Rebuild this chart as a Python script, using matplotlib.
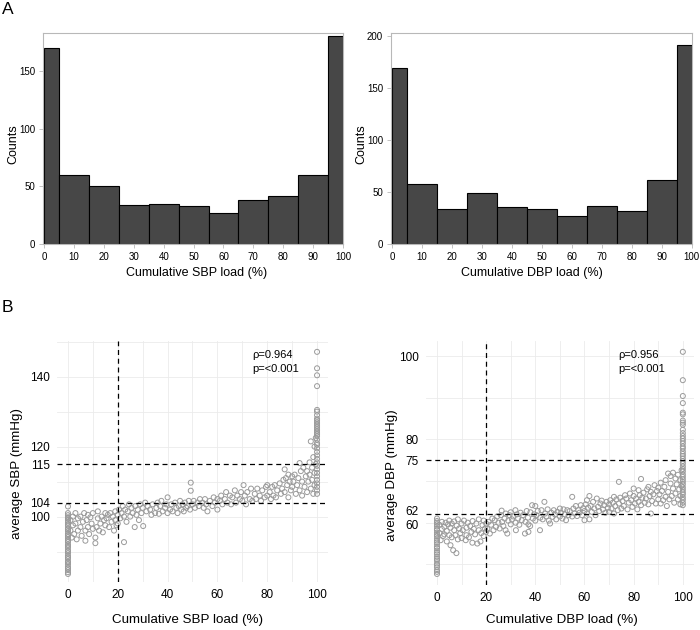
import matplotlib
matplotlib.use('Agg')
import matplotlib.pyplot as plt
import matplotlib.transforms as mtransforms
import numpy as np

plt.rcParams['font.family'] = ['Liberation Sans', 'DejaVu Sans']

# --- panel A: histograms of cumulative load ---
bin_edges = [0, 5, 15, 25, 35, 45, 55, 65, 75, 85, 95, 100]
sbp_counts = [170, 60, 50, 34, 35, 33, 27, 38, 42, 60, 180]
dbp_counts = [169, 58, 34, 49, 36, 34, 27, 37, 32, 62, 191]
hist_xticks = [0, 10, 20, 30, 40, 50, 60, 70, 80, 90, 100]
sbp_hist_yticks = [0, 50, 100, 150]
dbp_hist_yticks = [0, 50, 100, 150, 200]

# --- panel B: load vs average BP ---
sbp_zero = [83.6, 84.1, 84.7, 85.2, 85.6, 86.3, 86.8, 87.2, 87.9, 88.4, 88.8, 89.5,
            90.0, 90.4, 91.1, 91.6, 92.0, 92.7, 93.1, 93.6, 94.2, 94.7, 95.1, 95.8,
            96.3, 96.7, 97.4, 97.8, 98.3, 98.9, 99.4, 99.8, 100.4, 101.0, 102.9]
sbp_full = [106.5, 107.5, 108.5, 109.5, 110.5, 111.5, 112.5, 113.5, 114.5, 115.5,
            116.5, 117.5, 118.5, 119.5, 120.5, 121.0, 122.0, 123.0, 123.5, 124.0,
            124.5, 125.0, 125.5, 126.0, 126.5, 127.0, 127.5, 128.0, 129.0, 130.0,
            130.5, 137.3, 140.4, 142.4, 147.1]
sbp_mid = [
    (1, 96), (1, 99), (1.5, 94), (2, 97.5), (2, 100), (2.5, 95), (3, 98), (3, 101),
    (3.5, 93.5), (4, 96), (4, 99.5), (5, 100), (5, 97), (5.5, 94.5),
    (6, 98.5), (6.5, 101), (7, 96), (7, 93.1), (7.5, 99), (8, 100.5), (8, 97),
    (8.5, 95), (9, 99.8), (9.5, 98), (10, 96.5), (10, 101),
    (11, 92.4), (11, 94), (11.5, 97), (12, 99.5), (12, 101.5), (12.5, 96), (13, 98),
    (13.5, 100), (14, 95.5), (14.5, 99), (15, 101), (15, 97.5),
    (15.5, 99.5), (16, 100.5), (16.5, 97), (17, 101), (17.5, 98.5), (18, 100),
    (18.5, 96), (19, 101.5), (19, 99), (19.5, 97.5), (20, 100.5), (20, 98),
    (20.5, 102), (21, 99.5), (21.5, 101), (22, 103), (22.5, 92.7), (22.5, 100),
    (23, 102), (23.5, 98.5), (24, 101.5), (24.5, 103.5), (25, 100),
    (25.5, 102.5), (26, 101), (26.8, 97), (27, 103), (27.5, 100.5), (28, 102),
    (28.5, 99), (29, 103.5), (29.5, 101), (30, 102.5), (30.2, 97.3),
    (31, 104), (31.5, 101.5), (32, 103), (33, 102), (33.5, 100.5), (34, 103.5),
    (35, 101), (35.5, 102.5), (36, 104), (36.5, 100.8), (37, 103), (37.5, 104.5),
    (38, 101.5), (39, 102.5), (39.5, 103.5), (40, 105.5), (40, 101),
    (41, 102), (41.5, 103.5), (42, 101.5), (43, 104), (43.5, 102.5), (44, 101),
    (44.5, 103), (45, 104.5), (45.5, 102), (46, 103.5), (46.5, 101.5), (47, 104),
    (47.5, 102.5), (48, 103), (48.5, 104.5), (49, 102), (49.3, 107.4), (49.3, 109.7),
    (50, 103.5),
    (50.5, 104.5), (51, 102.5), (52, 104), (52.5, 103), (53, 105), (54, 104),
    (54.5, 102.5), (55, 105), (55.5, 103.5), (56, 101.5), (57, 104.5), (58, 103),
    (58.5, 105.5), (59, 104), (60, 102), (60, 105),
    (61, 104.5), (61.5, 106), (62, 103.5), (63, 105), (63.5, 107), (64, 104),
    (65, 106), (65.5, 103.5), (66, 105.5), (67, 107.5), (67.5, 104), (68, 106),
    (69, 105), (69.5, 107), (70, 104.5), (70.5, 109),
    (71, 106), (71.5, 103.5), (72, 107), (73, 105), (73.5, 108), (74, 104.5),
    (75, 106.5), (75.5, 105), (76, 108), (77, 106), (77.5, 104.5), (78, 107.5),
    (79, 105.5), (79.5, 108.5), (80, 106), (80, 109),
    (81, 107), (81.5, 105), (82, 108.5), (82.5, 106), (83, 109), (83.5, 105.5),
    (84, 107.5), (85, 109.5), (85.5, 106.5), (86, 108), (86.5, 110.5), (87, 107),
    (87, 113.5), (87.5, 111), (88, 109), (88.5, 112), (88.5, 105.5), (89, 110),
    (89.5, 107.5), (90, 111.5), (90, 108.5),
    (90.5, 110), (91, 112), (91.5, 106.5), (92, 109), (92.5, 111), (93, 107.5),
    (93, 115.3), (93.5, 113), (94, 110), (94, 106), (94.5, 114), (95, 108.5),
    (95.5, 111.5), (96, 107), (96, 113), (96.5, 110), (97, 115.5), (97, 112),
    (97.5, 108), (97.5, 121.5), (98, 114), (98, 110.5), (98.5, 106.5), (98.5, 117),
    (99, 112.5), (99, 120), (99, 109), (99.5, 115), (99.5, 122.5),
]

dbp_zero = [47.7, 48.2, 48.6, 49.3, 49.8, 50.2, 50.9, 51.3, 51.8, 52.4, 52.8, 53.3,
            53.9, 54.2, 54.8, 55.3, 55.7, 56.2, 56.8, 57.1, 57.6, 58.2, 58.5, 59.1,
            59.6, 60.0, 60.4, 61.0]
dbp_full = [64.2, 64.8, 65.5, 66.1, 66.8, 67.3, 67.9, 68.5, 69.2, 69.8, 70.4, 71.0,
            71.6, 72.3, 72.9, 73.5, 74.2, 74.8, 75.4, 76.0, 76.5, 77.1, 77.8, 78.3,
            79.0, 79.6, 80.2, 80.8, 81.5, 82.3, 83.5, 84.0, 84.5, 86.0, 86.4, 88.7,
            90.4, 94.2, 101.0]
dbp_mid = [
    (1, 57.5), (1, 59.5), (1.5, 55.8), (2, 58.5), (2, 60.2), (2.5, 56.8), (3, 59),
    (3, 57.2), (3.5, 60), (4, 58), (4, 55.5), (4.5, 59.6), (5, 57), (5, 60.5),
    (5.5, 54.6), (5.5, 58.8),
    (6, 56.5), (6, 59.8), (6.6, 53.4), (7, 58.2), (7, 60.3), (7.5, 57), (7.9, 52.7),
    (8, 59.3), (8.5, 56), (8.5, 60.8), (9, 58.6), (9.5, 57.5), (10, 59.8), (10, 56.3),
    (10.5, 58.2), (11, 60.5), (11.7, 55.8), (12, 58.8), (12, 57), (12.5, 60),
    (13, 56.5), (13.5, 59.2), (14, 57.8), (14.4, 55.2), (14.5, 60.4), (15, 58.5),
    (15.5, 57.2), (16, 59.8), (16.4, 55), (17, 58.2), (17, 60.8), (17.7, 55.5),
    (18, 57.5), (18.5, 59.4), (19, 56.8), (19, 60.5), (19.5, 58.6), (20, 57.8),
    (20, 59.8),
    (20.5, 58.5), (21, 60.2), (21.5, 57.4), (22, 59.5), (22.5, 61), (23, 58.2),
    (23.5, 60.6), (24, 59), (24.5, 61.5), (25, 60), (25.5, 58.6), (26, 61.8),
    (26.3, 62.9), (26.5, 60.2), (27, 59.2), (27.5, 61), (27.9, 58.2), (28, 62.2),
    (28.6, 57.4), (29, 60.5), (29.5, 61.8), (30, 59.6), (30, 62.5),
    (30.5, 60.8), (31, 61.5), (31.9, 63), (32, 60), (32.1, 58.2), (32.5, 62),
    (33, 61), (33.5, 59.5), (34, 62.4), (34.5, 60.6), (35, 61.8), (35.8, 57.4),
    (36, 60.2), (36.5, 62.8), (37, 61.2), (37.2, 57.8), (37.2, 59.6), (37.9, 59.2),
    (38, 62.5), (38.7, 64.2), (39, 61), (39.5, 62), (40, 60.5), (40, 64),
    (40.5, 61.8), (41, 62.8), (41.9, 58.2), (42, 61.2), (42.5, 63), (43, 60.8),
    (43.7, 65), (44, 62.2), (44.5, 61.5), (45, 63.2), (45.5, 60.5), (46, 59.8),
    (46.5, 62.4), (47, 61.4), (47.5, 63), (48, 62), (48.5, 60.8), (49, 62.6),
    (50, 61.5), (50, 63.4),
    (50.5, 62.4), (51, 61), (51.5, 63.2), (52, 62), (52.5, 60.6), (53, 63),
    (53.5, 61.8), (54, 62.8), (55, 66.2), (55, 61.5), (55.5, 63.4), (56, 62.2),
    (56.5, 64), (57, 61.6), (57.5, 63), (58, 62.4), (58.5, 64.2), (59, 61.8),
    (59.5, 63.5), (60, 60.6), (60, 62.8),
    (60.5, 64.4), (61, 65.4), (61, 62.2), (61.5, 63.6), (62, 66.4), (62, 60.8),
    (62.5, 64), (63, 62.6), (63.5, 65), (64, 63.4), (64.5, 61.8), (65, 65.8),
    (65.5, 63.8), (66, 62.8), (66.5, 64.6), (67, 65.3), (67.5, 63.2), (68, 64.2),
    (68.5, 62.4), (69, 65), (69.5, 63.6), (70, 64.4), (70, 62.6),
    (70.5, 65.4), (71, 63.4), (71.5, 64.8), (72, 66.2), (72, 62.2), (72.5, 64),
    (73, 65.6), (73.5, 63), (74, 69.8), (74, 64.6), (74.5, 66), (75, 63.4),
    (75.5, 65.2), (76, 64), (76.5, 66.6), (77, 65.8), (77.5, 63.2), (78, 64.8),
    (78.5, 67), (79, 65.4), (79.5, 63.8), (80, 66.4), (80, 68.2),
    (80.5, 64.6), (81, 65.8), (81.5, 63.2), (82, 67.8), (82, 65), (82.5, 66.6),
    (83, 70.5), (83, 64.2), (83.5, 66), (84, 67.2), (84.5, 64.8), (85, 65.8),
    (85.5, 68), (86, 68.6), (86, 64.4), (86.5, 66.4), (87, 62.2), (87, 67.4),
    (87.5, 65.2), (88, 66.8), (88.5, 69), (89, 64.6), (89.5, 67.6), (90, 65.6),
    (90, 68.4),
    (90.5, 66.8), (91, 69.6), (91, 64.6), (91.5, 67.6), (92, 65.4), (92.5, 68.6),
    (93, 66.2), (93, 70.2), (93.5, 64), (94, 71.8), (94, 67.4), (94.5, 65.6),
    (95, 69.4), (95, 71.2), (95.5, 66.4), (96, 72), (96, 68.2), (96.5, 64.8),
    (97, 70.6), (97, 67), (97.5, 69.2), (98, 71.5), (98, 65.6), (98.5, 68),
    (99, 66.4), (99, 70.2), (99, 64.4), (99.5, 68.8), (99.5, 72.6),
]

sbp_yticks = [100, 104, 115, 120, 140]
dbp_yticks = [60, 62, 75, 80, 100]
sbp_cutoffs = [104, 115]
dbp_cutoffs = [62, 75]
load_cutoff = 20

W, H = 700, 630
fig = plt.figure(figsize=(7, 6.3), dpi=100)


def px_rect(l, t, r, b):
    return [l / W, 1 - b / H, (r - l) / W, (b - t) / H]


def hist_panel(rect, counts, ymax, yticks, xlabel, ylab_x, xlab_x):
    ax = fig.add_axes(rect)
    left = np.array(bin_edges[:-1])
    width = np.diff(bin_edges)
    ax.bar(left, counts, width=width, align='edge', color='#474747',
           edgecolor='black', linewidth=0.8)
    ax.set_xlim(-0.5, 100)
    ax.set_ylim(0, ymax)
    ax.set_xticks(hist_xticks)
    ax.set_yticks(yticks)
    for s in ax.spines.values():
        s.set_color('#b8b8b8')
        s.set_linewidth(0.8)
    ax.tick_params(colors='#b8b8b8', labelcolor='black', labelsize=7,
                   length=3, width=0.6, pad=2.5)
    ax.set_ylabel('Counts', fontsize=9)
    ax.set_xlabel(xlabel, fontsize=9)
    ax.yaxis.label.set_va('center')
    ax.xaxis.label.set_va('center')
    ax.yaxis.set_label_coords(ylab_x, 0.475)
    ax.xaxis.set_label_coords(xlab_x, -0.137)
    return ax


def scatter_panel(rect, zero, full, mid, xlim, ylim, grid_y, yticks, cutoffs,
                  ylabel, xlabel, text_xy, rho, ylab_xy, xlab_xy):
    ax = fig.add_axes(rect)
    for s in ax.spines.values():
        s.set_visible(False)
    for g in grid_y:
        ax.axhline(g, color='#ebebeb', linewidth=0.6, zorder=0)
    for g in hist_xticks:
        ax.axvline(g, color='#ebebeb', linewidth=0.6, zorder=0)
    mx = [p[0] for p in mid]
    my = [p[1] for p in mid]
    xs = [0] * len(zero) + mx + [100] * len(full)
    ys = list(zero) + my + list(full)
    ax.scatter(xs, ys, s=13, facecolors='none', edgecolors='#9a9a9a',
               linewidths=0.7, zorder=2)
    ax.axvline(load_cutoff, color='black', linestyle=(0, (4, 3)), linewidth=0.9, zorder=3)
    for c in cutoffs:
        ax.axhline(c, color='black', linestyle=(0, (4, 3)), linewidth=0.9, zorder=3)
    ax.set_xlim(*xlim)
    ax.set_ylim(*ylim)
    ax.set_xticks([0, 20, 40, 60, 80, 100])
    ax.set_yticks(yticks)
    ax.tick_params(length=0, labelsize=8.5, pad=5)
    ax.text(text_xy[0], text_xy[1], 'ρ=' + rho + '\np=<0.001', fontsize=8,
            va='top', ha='left', linespacing=1.45)
    ax.set_ylabel(ylabel, fontsize=9.6)
    ax.set_xlabel(xlabel, fontsize=9.6)
    ax.yaxis.label.set_va('center')
    ax.xaxis.label.set_va('center')
    ax.yaxis.set_label_coords(*ylab_xy)
    ax.xaxis.set_label_coords(*xlab_xy)
    return ax


hist_panel(px_rect(42.7, 33, 343, 244), sbp_counts, 183, sbp_hist_yticks,
           'Cumulative SBP load (%)', -0.099, 0.514)
hist_panel(px_rect(390.7, 33, 691.7, 244), dbp_counts, 203, dbp_hist_yticks,
           'Cumulative DBP load (%)', -0.096, 0.468)

scatter_panel(px_rect(57, 341, 328, 582), sbp_zero, sbp_full, sbp_mid,
              (-4.4, 104.4), (81.3, 150.2), [90, 100, 110, 120, 130, 140, 150],
              sbp_yticks, sbp_cutoffs, 'average SBP (mmHg)', 'Cumulative SBP load (%)',
              (74, 147.6), '0.964', (-0.148, 0.45), (0.483, -0.158))
ax_d = scatter_panel(px_rect(425.9, 341, 693.9, 585), dbp_zero, dbp_full, dbp_mid,
                     (-4.5, 104.5), (45.05, 103.6), [50, 60, 70, 80, 90, 100],
                     dbp_yticks, dbp_cutoffs, 'average DBP (mmHg)', 'Cumulative DBP load (%)',
                     (73.7, 101.4), '0.956', (-0.126, 0.45), (0.508, -0.143))

# the 62 and 60 labels sit very close; nudge them apart a little like the original
fig.canvas.draw()
for lab in ax_d.get_yticklabels():
    if lab.get_text() == '62':
        lab.set_transform(lab.get_transform() +
                          mtransforms.ScaledTranslation(0, 3 / 72, fig.dpi_scale_trans))
    elif lab.get_text() == '60':
        lab.set_transform(lab.get_transform() +
                          mtransforms.ScaledTranslation(0, -1 / 72, fig.dpi_scale_trans))

fig.text(2 / W, 1 - 2 / H, 'A', fontsize=12.5, va='top', ha='left')
fig.text(2 / W, 1 - 300 / H, 'B', fontsize=12.5, va='top', ha='left')

fig.savefig('out.png', dpi=100)
